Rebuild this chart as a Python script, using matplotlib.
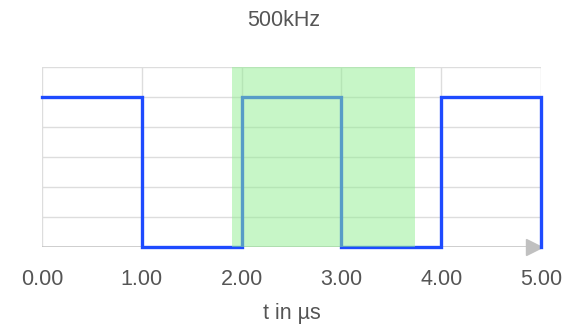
import matplotlib.pyplot as plt

plt.rcParams["font.family"] = ["Liberation Sans", "DejaVu Sans"]

# square wave levels (step-post)
t_points = [0, 1, 2, 3, 4, 5]
levels = [1, 0, 1, 0, 1, 0]
# highlighted window in µs
window = [1.9, 3.74]
xticks = [0, 1, 2, 3, 4, 5]
yticks = [0, 0.2, 0.4, 0.6, 0.8, 1.0, 1.2]

fig = plt.figure(figsize=(5.67, 3.28), dpi=100)
ax = fig.add_axes([0.074, 0.247, 0.880, 0.549])

grid_c = '#dddddd'
for y in yticks[1:]:
    ax.axhline(y, color=grid_c, lw=1, zorder=0)
for x in xticks:
    ax.axvline(x, color=grid_c, lw=1, zorder=0)

ax.plot(t_points, levels, drawstyle='steps-post', color='#1e4bff', lw=2.4,
        solid_joinstyle='miter', zorder=2, clip_on=False)
ax.axvspan(window[0], window[1], color='lightgreen', alpha=0.5, lw=0, zorder=3)

# x axis line with arrow
ax.axhline(0, color='#c0c0c0', lw=1.8, zorder=1)
ax.plot([4.93], [0], marker='>', color='#c0c0c0', ms=12, clip_on=False, zorder=1)

ax.set_xlim(0, 5)
ax.set_ylim(0, 1.2)
for s in ax.spines.values():
    s.set_visible(False)
ax.set_yticks([])
ax.set_xticks(xticks)
ax.set_xticklabels([f'{x:.2f}' for x in xticks], fontsize=15.5, color='#555555')
ax.tick_params(axis='x', length=0, pad=16)
ax.set_xlabel('t in µs', fontsize=15.5, color='#555555', labelpad=9)
fig.text(0.5, 0.937, '500kHz', ha='center', va='center', fontsize=15.5, color='#555555')

fig.savefig('out.png', dpi=100)
